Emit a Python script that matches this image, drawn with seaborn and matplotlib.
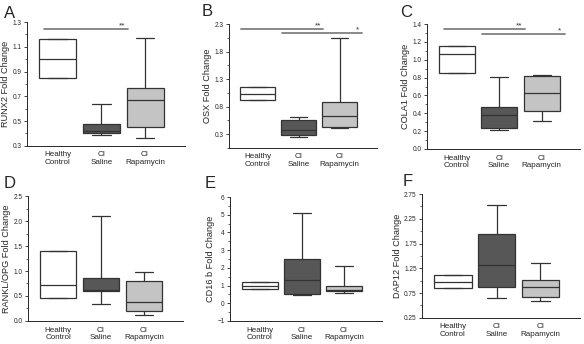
import numpy as np
import pandas as pd
import matplotlib
matplotlib.use("Agg")
import matplotlib.pyplot as plt
import seaborn as sns

# groups and tick labels
groups = ["Healthy Control", "CI Saline", "CI Rapamycin"]
tick_labels = ["Healthy\nControl", "CI\nSaline", "CI\nRapamycin"]
box_colors = ["#ffffff", "#575757", "#c4c4c4"]

# five-number summaries: [min, q1, median, q3, max]
runx2 = [[0.85, 0.85, 1.00, 1.16, 1.16],
         [0.39, 0.40, 0.42, 0.48, 0.64],
         [0.36, 0.45, 0.67, 0.77, 1.17]]
osx = [[0.92, 0.92, 1.03, 1.15, 1.15],
       [0.24, 0.29, 0.37, 0.56, 0.62],
       [0.42, 0.43, 0.63, 0.89, 2.05]]
cola1 = [[0.85, 0.85, 1.07, 1.15, 1.15],
         [0.21, 0.24, 0.38, 0.47, 0.81],
         [0.31, 0.42, 0.63, 0.82, 0.83]]
rankl_opg = [[0.45, 0.45, 0.72, 1.41, 1.41],
             [0.33, 0.59, 0.62, 0.85, 2.10],
             [0.12, 0.19, 0.37, 0.79, 0.99]]
cd16b = [[0.78, 0.78, 1.00, 1.22, 1.22],
         [0.45, 0.50, 1.30, 2.50, 5.10],
         [0.60, 0.68, 0.75, 0.97, 2.10]]
dap12 = [[0.85, 0.85, 0.97, 1.12, 1.12],
         [0.65, 0.88, 1.32, 1.95, 2.53],
         [0.60, 0.68, 0.88, 1.01, 1.36]]

# significance bars: (x0, x1, y, label)
sig_a = [(-0.3, 1.6, 1.24, "**")]
sig_b = [(-0.4, 1.6, 2.21, "**"), (0.6, 2.55, 2.13, "*")]
sig_c = [(-0.3, 1.6, 1.34, "**"), (0.6, 2.55, 1.29, "*")]

# letter, ylabel, data, ylim, first tick, tick step, sig bars, axes rect, letter pos (px)
panels = [
    ("A", "RUNX2 Fold Change", runx2, (0.3, 1.3), 0.3, 0.2, sig_a,
     [0.046, 0.576, 0.27, 0.36], (4, 6)),
    ("B", "OSX Fold Change", osx, (0.05, 2.3), 0.3, 0.5, sig_b,
     [0.392, 0.570, 0.253, 0.36], (202, 4)),
    ("C", "COLA1 Fold Change", cola1, (0.0, 1.4), 0.0, 0.2, sig_c,
     [0.731, 0.567, 0.262, 0.363], (400, 5)),
    ("D", "RANKL/OPG Fold Change", rankl_opg, (0.0, 2.5), 0.0, 0.5, [],
     [0.048, 0.067, 0.265, 0.363], (4, 176)),
    ("E", "CD16 b Fold Change", cd16b, (-1, 6), -1, 1, [],
     [0.394, 0.067, 0.26, 0.36], (205, 176)),
    ("F", "DAP12 Fold Change", dap12, (0.25, 2.75), 0.25, 0.5, [],
     [0.723, 0.076, 0.27, 0.36], (403, 174)),
]

sns.set_style("ticks")
plt.rcParams["font.family"] = ["Liberation Sans", "DejaVu Sans"]

W, H = 584, 344
fig = plt.figure(figsize=(W / 100, H / 100), dpi=100)

for letter, ylabel, summaries, ylim, t0, step, sigs, rect, lpos in panels:
    ax = fig.add_axes(rect)
    df = pd.DataFrame({
        "group": np.repeat(groups, 5),
        "value": np.concatenate(summaries),
    })
    sns.boxplot(data=df, x="group", y="value", hue="group", order=groups,
                hue_order=groups, palette=box_colors, legend=False,
                whis=np.inf, width=0.85, linewidth=0.9, linecolor="#333333",
                showcaps=True, ax=ax,
                medianprops={"color": "#333333", "linewidth": 0.9},
                capprops={"color": "#333333", "linewidth": 0.9})
    ax.set_xlim(-0.7, 2.9)
    ax.set_yticks(np.arange(t0, ylim[1] + 1e-6, step))
    ax.set_yticks(np.arange(t0 - step / 2, ylim[1] + 1e-6, step / 2), minor=True)
    ax.set_ylim(*ylim)
    ax.set_xticks(range(3))
    ax.set_xticklabels(tick_labels, fontsize=5.8, linespacing=1.1)
    ax.tick_params(axis="x", length=0, pad=4)
    ax.tick_params(axis="y", which="major", labelsize=4.7, length=2.5,
                   width=0.6, pad=1.5)
    ax.tick_params(axis="y", which="minor", length=1.5, width=0.5)
    ax.set_xlabel("")
    ax.set_ylabel(ylabel, fontsize=6.6, labelpad=1.5)
    sns.despine(ax=ax)
    for side in ["left", "bottom"]:
        ax.spines[side].set_linewidth(0.7)
    for x0, x1, y, lab in sigs:
        ax.plot([x0, x1], [y, y], color="#808080", lw=1.3, clip_on=False)
        ax.text(x1 - 0.12, y, lab, ha="center", va="bottom", fontsize=6,
                color="#333333")
    fig.text(lpos[0] / W, 1 - lpos[1] / H, letter, fontsize=12,
             ha="left", va="top")

fig.savefig("out.png", dpi=100)
